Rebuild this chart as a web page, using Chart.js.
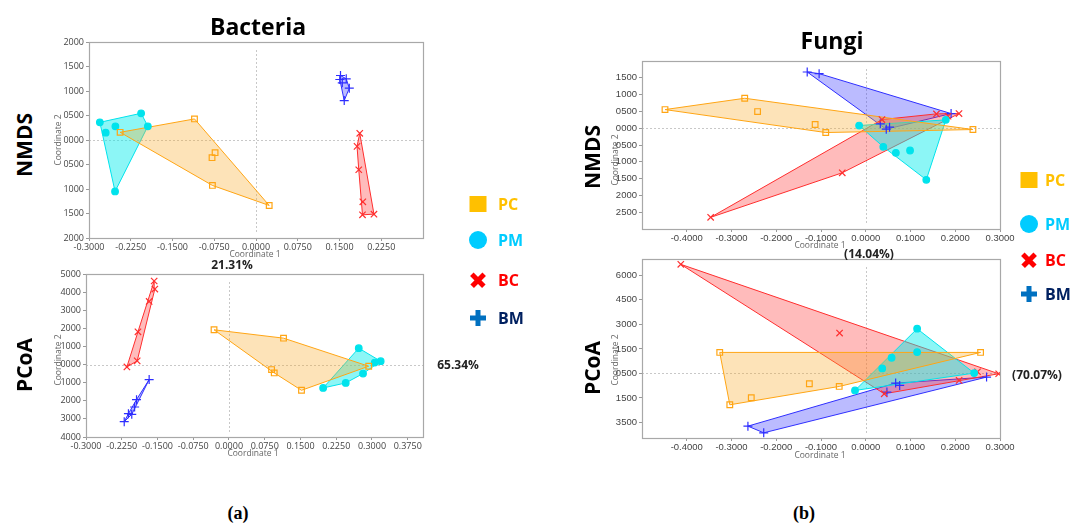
<!DOCTYPE html>
<html>
<head>
<meta charset="utf-8">
<script src="https://cdn.jsdelivr.net/npm/chart.js@4.4.0/dist/chart.umd.min.js"></script>
<style>
  body { margin: 0; background: #fff; width: 1075px; height: 525px; position: relative; overflow: hidden; font-family: 'Open Sans', sans-serif; }
  canvas { position: absolute; }
  .t { position: absolute; transform: translate(-50%, -50%); white-space: nowrap; }
  .rot { transform: translate(-50%, -50%) rotate(-90deg); }
  .title { font-weight: bold; font-size: 23px; color: #000; }
  .row { font-weight: bold; font-size: 21px; color: #000; }
  .pct { font-weight: bold; font-size: 12px; color: #222; }
  .axt { font-size: 8.5px; color: #666; }
  .sub { font-family: 'Liberation Serif', serif; font-weight: bold; font-size: 18px; color: #000; }
  .lg { font-weight: bold; font-size: 16px; transform: translate(0, -50%); }
  .mk { position: absolute; transform: translate(-50%, -50%); }
</style>
</head>
<body>
<canvas id="bNmds"></canvas>
<canvas id="bPcoa"></canvas>
<canvas id="fNmds"></canvas>
<canvas id="fPcoa"></canvas>

<div class="t title" style="left:258px; top:26px;">Bacteria</div>
<div class="t title" style="left:832px; top:40px;">Fungi</div>
<div class="t row rot" style="left:24px; top:145px;">NMDS</div>
<div class="t row rot" style="left:24px; top:365px;">PCoA</div>
<div class="t row rot" style="left:592px; top:157px;">NMDS</div>
<div class="t row rot" style="left:592px; top:368px;">PCoA</div>

<div class="t axt rot" style="left:57px; top:140px;">Coordinate 2</div>
<div class="t axt rot" style="left:57px; top:360px;">Coordinate 2</div>
<div class="t axt rot" style="left:614px; top:160px;">Coordinate 2</div>
<div class="t axt rot" style="left:614px; top:360px;">Coordinate 2</div>
<div class="t axt" style="left:255px; top:253px;">Coordinate 1</div>
<div class="t axt" style="left:253px; top:452px;">Coordinate 1</div>
<div class="t axt" style="left:820px; top:244px;">Coordinate 1</div>
<div class="t axt" style="left:820px; top:454px;">Coordinate 1</div>

<div class="t pct" style="left:232px; top:264px;">21.31%</div>
<div class="t pct" style="left:458px; top:364px;">65.34%</div>
<div class="t pct" style="left:869px; top:253px;">(14.04%)</div>
<div class="t pct" style="left:1037px; top:374px;">(70.07%)</div>

<div class="t sub" style="left:238px; top:513px;">(a)</div>
<div class="t sub" style="left:804px; top:513px;">(b)</div>

<div id="legends"></div>

<script>
// group names and colours
const groups = ['PC', 'PM', 'BC', 'BM'];
const strokeCol = { PC: '#FFA514', PM: '#00E3EC', BC: '#FF2E2E', BM: '#2E2EFF' };
const fillCol = { PC: 'rgba(250,170,40,0.33)', PM: 'rgba(0,235,235,0.45)', BC: 'rgba(255,50,50,0.33)', BM: 'rgba(50,50,255,0.33)' };
const legendText = { PC: '#FFC000', PM: '#00CCFF', BC: '#FF0000', BM: '#002060' };

// ---- Bacteria NMDS ----
const bNmdsXTicks = [-0.3, -0.225, -0.15, -0.075, 0, 0.075, 0.15, 0.225];
const bNmdsYTicks = [2000, 1500, 1000, 500, 0, -500, -1000, -1500, -2000];
const bNmdsYLabels = ['2000', '1500', '1000', '0500', '0000', '0500', '1000', '1500', '2000'];
const bNmdsPC = [[-0.2441, 157], [-0.1105, 430], [-0.0735, -259], [-0.0790, -361], [-0.0783, -927], [0.0237, -1336]];
const bNmdsPM = [[-0.2805, 361], [-0.2700, 150], [-0.2526, 280], [-0.2064, 545], [-0.1943, 280], [-0.2532, -1050]];
const bNmdsBC = [[0.1864, 136], [0.1815, -130], [0.1846, -607], [0.1919, -1261], [0.1913, -1527], [0.2119, -1513]];
const bNmdsBM = [[0.1518, 1316], [0.1506, 1235], [0.1550, 1166], [0.1621, 1248], [0.1676, 1057], [0.1585, 804]];

// ---- Bacteria PCoA ----
const bPcoaXTicks = [-0.3, -0.225, -0.15, -0.075, 0, 0.075, 0.15, 0.225, 0.3, 0.375];
const bPcoaYTicks = [5000, 4000, 3000, 2000, 1000, 0, -1000, -2000, -3000, -4000];
const bPcoaYLabels = ['5000', '4000', '3000', '2000', '1000', '0000', '1000', '2000', '3000', '4000'];
const bPcoaPC = [[-0.0314, 1919], [0.1144, 1458], [0.0893, -277], [0.0949, -461], [0.1521, -1421], [0.2931, -92]];
const bPcoaPM = [[0.2722, 904], [0.3057, 111], [0.3182, 185], [0.2812, -498], [0.2449, -1015], [0.1975, -1292]];
const bPcoaBC = [[-0.1570, 4613], [-0.1556, 4170], [-0.1675, 3487], [-0.1910, 1808], [-0.1926, 203], [-0.2142, -129]];
const bPcoaBM = [[-0.1675, -830], [-0.1940, -1937], [-0.1980, -2343], [-0.2110, -2712], [-0.2040, -2749], [-0.2198, -3155]];

// ---- Fungi NMDS ----
const fXTicks = [-0.4, -0.3, -0.2, -0.1, 0, 0.1, 0.2, 0.3];
const fNmdsYTicks = [1500, 1000, 500, 0, -500, -1000, -1500, -2000, -2500];
const fNmdsYLabels = ['1500', '1000', '0500', '0000', '0500', '1000', '1500', '2000', '2500'];
const fNmdsPC = [[-0.4486, 554], [-0.2705, 891], [-0.2417, 495], [-0.1131, 109], [-0.0894, -129], [0.2395, -40]];
const fNmdsPM = [[-0.0148, 79], [0.0392, -554], [0.0673, -733], [0.0990, -663], [0.1353, -1535], [0.1789, 248]];
const fNmdsBC = [[-0.3466, -2653], [-0.0525, -1327], [0.0362, 257], [0.1580, 426], [0.1840, 356], [0.2084, 436]];
const fNmdsBM = [[-0.1308, 1673], [-0.1042, 1624], [0.0325, 129], [0.0458, -30], [0.0532, 30], [0.1907, 436]];

// ---- Fungi PCoA ----
const fPcoaYTicks = [6000, 4500, 3000, 1500, 0, -1500, -3000];
const fPcoaYLabels = ['6000', '4500', '3000', '1500', '0500', '1500', '3500'];
const fPcoaPC = [[-0.3263, 1286], [0.2566, 1286], [-0.1260, -633], [-0.0593, -796], [-0.2558, -1490], [-0.3038, -1918]];
const fPcoaPM = [[0.1148, 2735], [0.1148, 1306], [0.0578, 959], [0.0368, 306], [0.2423, 20], [-0.0240, -1041]];
const fPcoaBC = [[-0.4133, 6673], [-0.0585, 2469], [0.2970, -20], [0.2498, 102], [0.2086, -429], [0.0413, -1245]];
const fPcoaBM = [[-0.2633, -3224], [-0.2280, -3633], [0.2700, -224], [0.0668, -592], [0.0758, -735], [0.0473, -1143]];

// convex hull (monotone chain), closed
function hull(pts) {
  const p = pts.slice().sort((a, b) => a[0] - b[0] || a[1] - b[1]);
  const cross = (o, a, b) => (a[0] - o[0]) * (b[1] - o[1]) - (a[1] - o[1]) * (b[0] - o[0]);
  const lower = [], upper = [];
  for (const q of p) {
    while (lower.length >= 2 && cross(lower[lower.length - 2], lower[lower.length - 1], q) <= 0) lower.pop();
    lower.push(q);
  }
  for (let i = p.length - 1; i >= 0; i--) {
    const q = p[i];
    while (upper.length >= 2 && cross(upper[upper.length - 2], upper[upper.length - 1], q) <= 0) upper.pop();
    upper.push(q);
  }
  const h = lower.slice(0, -1).concat(upper.slice(0, -1));
  h.push(h[0]);
  return h;
}

const markerStyle = {
  PC: { pointStyle: 'rect', radius: 4, bg: 'rgba(0,0,0,0)' },
  PM: { pointStyle: 'circle', radius: 3.3, bg: '#00E3EC' },
  BC: { pointStyle: 'crossRot', radius: 4.5, bg: '#FF2E2E' },
  BM: { pointStyle: 'cross', radius: 4.5, bg: '#2E2EFF' }
};

// frame + dotted zero lines
const framePlugin = {
  id: 'frame',
  beforeDatasetsDraw(chart) {
    const { ctx, chartArea: a, scales } = chart;
    ctx.save();
    ctx.strokeStyle = '#c8c8c8';
    ctx.lineWidth = 1;
    ctx.setLineDash([2, 2]);
    const x0 = Math.round(scales.x.getPixelForValue(0)) + 0.5;
    const y0 = Math.round(scales.y.getPixelForValue(0)) + 0.5;
    ctx.beginPath();
    ctx.moveTo(x0, a.top + 8); ctx.lineTo(x0, a.bottom - 4);
    ctx.moveTo(a.left, y0); ctx.lineTo(a.right, y0);
    ctx.stroke();
    ctx.restore();
  },
  afterDraw(chart) {
    const { ctx, chartArea: a } = chart;
    ctx.save();
    ctx.strokeStyle = '#a8a8a8';
    ctx.lineWidth = 1.2;
    ctx.strokeRect(Math.round(a.left) + 0.5, Math.round(a.top) + 0.5, Math.round(a.right - a.left), Math.round(a.bottom - a.top));
    ctx.restore();
  }
};

const PAD_L = 50, PAD_T = 8, PAD_R = 22, PAD_B = 22;

function makePanel(id, box, xr, yr, xTicks, yTicks, yLabels, data, tickFont) {
  const cv = document.getElementById(id);
  const w = box.right - box.left + PAD_L + PAD_R;
  const h = box.bottom - box.top + PAD_T + PAD_B;
  cv.style.left = (box.left - PAD_L) + 'px';
  cv.style.top = (box.top - PAD_T) + 'px';
  cv.style.width = w + 'px';
  cv.style.height = h + 'px';
  cv.width = w; cv.height = h;

  const datasets = [];
  groups.forEach(g => {
    datasets.push({
      type: 'line',
      data: hull(data[g]).map(p => ({ x: p[0], y: p[1] })),
      borderColor: strokeCol[g],
      backgroundColor: fillCol[g],
      borderWidth: 1,
      fill: 'shape',
      tension: 0,
      pointRadius: 0,
      order: 2
    });
  });
  groups.forEach(g => {
    const m = markerStyle[g];
    datasets.push({
      type: 'scatter',
      data: data[g].map(p => ({ x: p[0], y: p[1] })),
      pointStyle: m.pointStyle,
      pointRadius: m.radius,
      pointBackgroundColor: m.bg,
      pointBorderColor: strokeCol[g],
      pointBorderWidth: 1.2,
      order: 1
    });
  });

  const axisCommon = {
    type: 'linear',
    grid: { drawOnChartArea: false, drawTicks: true, tickLength: 3, color: '#999' },
    border: { display: true, color: '#a8a8a8' }
  };

  return new Chart(cv, {
    type: 'scatter',
    data: { datasets },
    options: {
      responsive: false,
      animation: false,
      layout: { padding: { left: 0, top: PAD_T, right: PAD_R, bottom: 0 } },
      plugins: { legend: { display: false }, tooltip: { enabled: false } },
      scales: {
        x: {
          ...axisCommon,
          min: xr[0], max: xr[1],
          afterBuildTicks: s => { s.ticks = xTicks.map(v => ({ value: v })); },
          afterFit: s => { s.height = PAD_B; },
          ticks: { autoSkip: false, maxRotation: 0, padding: 1, color: '#444', font: tickFont,
                   callback: (v, i) => xTicks[i].toFixed(4) }
        },
        y: {
          ...axisCommon,
          min: yr[0], max: yr[1],
          afterBuildTicks: s => { s.ticks = yTicks.map(v => ({ value: v })); },
          afterFit: s => { s.width = PAD_L; },
          ticks: { autoSkip: false, padding: 2, color: '#444', font: tickFont,
                   callback: (v, i) => yLabels[i] }
        }
      }
    },
    plugins: [framePlugin]
  });
}

const bFont = { family: 'Open Sans', size: 9 };
const fFont = { family: 'Liberation Sans', size: 9.5 };

makePanel('bNmds', { left: 89, top: 42, right: 423, bottom: 238 }, [-0.3, 0.3], [-2000, 2000],
  bNmdsXTicks, bNmdsYTicks, bNmdsYLabels, { PC: bNmdsPC, PM: bNmdsPM, BC: bNmdsBC, BM: bNmdsBM }, bFont);
makePanel('bPcoa', { left: 86, top: 274, right: 423, bottom: 437 }, [-0.3, 0.407], [-4000, 5000],
  bPcoaXTicks, bPcoaYTicks, bPcoaYLabels, { PC: bPcoaPC, PM: bPcoaPM, BC: bPcoaBC, BM: bPcoaBM }, bFont);
makePanel('fNmds', { left: 642, top: 61, right: 1000, bottom: 229 }, [-0.5, 0.3], [-3000, 2000],
  fXTicks, fNmdsYTicks, fNmdsYLabels, { PC: fNmdsPC, PM: fNmdsPM, BC: fNmdsBC, BM: fNmdsBM }, fFont);
makePanel('fPcoa', { left: 642, top: 259, right: 1000, bottom: 438 }, [-0.5, 0.3], [-3950, 7000],
  fXTicks, fPcoaYTicks, fPcoaYLabels, { PC: fPcoaPC, PM: fPcoaPM, BC: fPcoaBC, BM: fPcoaBM }, fFont);

// legends (marker centre x, text x, row centres y)
function legend(mx, tx, ys) {
  const el = document.getElementById('legends');
  groups.forEach((g, i) => {
    const y = ys[i];
    let mk = '';
    if (g === 'PC') mk = `<div class="mk" style="left:${mx}px;top:${y}px;width:17px;height:16px;background:#FFC000"></div>`;
    if (g === 'PM') mk = `<div class="mk" style="left:${mx}px;top:${y}px;width:18px;height:18px;border-radius:50%;background:#00CCFF"></div>`;
    if (g === 'BC') mk = `<div class="mk" style="left:${mx}px;top:${y}px;width:17px;height:4.5px;background:#FF0000;transform:translate(-50%,-50%) rotate(45deg)"></div>` +
                         `<div class="mk" style="left:${mx}px;top:${y}px;width:17px;height:4.5px;background:#FF0000;transform:translate(-50%,-50%) rotate(-45deg)"></div>`;
    if (g === 'BM') mk = `<div class="mk" style="left:${mx}px;top:${y}px;width:16px;height:5px;background:#0070C0"></div>` +
                         `<div class="mk" style="left:${mx}px;top:${y}px;width:5px;height:16px;background:#0070C0"></div>`;
    el.insertAdjacentHTML('beforeend', mk +
      `<div class="t lg" style="left:${tx}px;top:${y}px;color:${legendText[g]}">${g}</div>`);
  });
}
legend(478, 498, [204, 240, 280, 318]);
legend(1029, 1045, [180, 224, 260, 294]);
</script>
</body>
</html>
